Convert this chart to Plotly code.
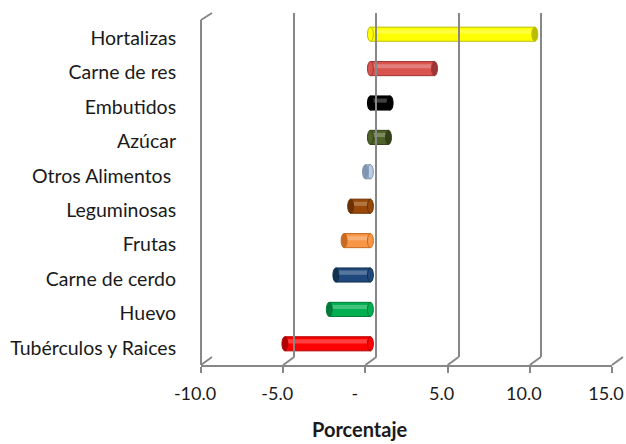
import plotly.graph_objects as go

# Variación porcentual por grupo de alimentos (de abajo hacia arriba)
categorias = ["Tubérculos y Raices", "Huevo", "Carne de cerdo", "Frutas",
              "Leguminosas", "Otros Alimentos ", "Azúcar", "Embutidos",
              "Carne de res", "Hortalizas"]
valores = [-5.2, -2.5, -2.1, -1.6, -1.2, -0.3, 1.1, 1.2, 3.9, 10.0]
colores = ["#FF0000", "#00B050", "#1F497D", "#F79646", "#984807",
           "#B9CDE5", "#4F6228", "#000000", "#D9534F", "#FFFF00"]
bordes = ["#B00000", "#007A38", "#12304F", "#C86A20", "#6A3204",
          "#8095B0", "#323F18", "#000000", "#9E3532", "#BDBD00"]

x_ticks = [-10, -5, 0, 5, 10, 15]
x_ticktext = ["-10.0", "-5.0", "-  ", "5.0", "10.0", "15.0"]
x_rango = [-10, 15]

W, H = 626, 444
FONT = "Lato"
GRIS = "#878787"


def fx(px):
    return px / W


def fy(py):
    return 1 - py / H


# Geometría del gráfico en pseudo-3D: pared frontal y pared del fondo
FRONT_X = (201, 612)
FRONT_Y = (21, 365)
DEPTH = (11, 8)          # desplazamiento horizontal / vertical del fondo
BACK_X = (FRONT_X[0] + DEPTH[0], FRONT_X[1] + DEPTH[0])
BACK_Y = (FRONT_Y[0] - DEPTH[1], FRONT_Y[1] - DEPTH[1])
MID_X = (FRONT_X[0] + 5, FRONT_X[1] + 5)
MID_Y = (FRONT_Y[0] - 4, FRONT_Y[1] - 4)


def px_of(v, span):
    return span[0] + (v - x_rango[0]) / (x_rango[1] - x_rango[0]) * (span[1] - span[0])


fig = go.Figure()
idx = list(range(len(categorias)))

# ejes auxiliares (pared del fondo y etiquetas de categoría)
fig.add_trace(go.Scatter(x=[None], y=[None], xaxis="x4", yaxis="y4",
                         showlegend=False, hoverinfo="skip"))
fig.add_trace(go.Scatter(x=[None], y=[None], xaxis="x", yaxis="y2",
                         showlegend=False, hoverinfo="skip"))

# cilindros
fig.add_trace(go.Bar(
    y=idx, x=valores, orientation="h", width=0.41,
    marker=dict(color=colores, line=dict(color=bordes, width=1)),
    xaxis="x3", yaxis="y3", showlegend=False, hoverinfo="skip"))
# brillo superior del cilindro
fig.add_trace(go.Bar(
    y=idx, x=valores, orientation="h", width=0.12, offset=0.01,
    marker=dict(color="rgba(255,255,255,0.25)", line=dict(width=0)),
    xaxis="x3", yaxis="y3", showlegend=False, hoverinfo="skip"))

shapes = []
# tapas elípticas de los cilindros
for i, (v, c, b) in enumerate(zip(valores, colores, bordes)):
    shapes.append(dict(type="circle", xref="x3", yref="y3",
                       x0=-0.18, x1=0.18, y0=i - 0.205, y1=i + 0.205,
                       fillcolor=c, line=dict(color=b, width=1), layer="above"))
    shapes.append(dict(type="circle", xref="x3", yref="y3",
                       x0=v - 0.18, x1=v + 0.18, y0=i - 0.205, y1=i + 0.205,
                       fillcolor=b, line=dict(color=b, width=1), layer="above"))

# aristas diagonales del piso y de la pared izquierda
for t in x_ticks:
    shapes.append(dict(type="line", xref="paper", yref="paper",
                       x0=fx(px_of(t, FRONT_X)), y0=fy(FRONT_Y[1]),
                       x1=fx(px_of(t, BACK_X)), y1=fy(BACK_Y[1]),
                       line=dict(color=GRIS, width=2), layer="below"))
shapes.append(dict(type="line", xref="paper", yref="paper",
                   x0=fx(FRONT_X[0]), y0=fy(FRONT_Y[0] - 1),
                   x1=fx(BACK_X[0]), y1=fy(BACK_Y[0]),
                   line=dict(color=GRIS, width=2), layer="below"))

fig.update_layout(
    template="none",
    width=W, height=H,
    margin=dict(l=0, r=0, t=0, b=0, pad=0),
    paper_bgcolor="white", plot_bgcolor="rgba(0,0,0,0)",
    barmode="overlay",
    shapes=shapes,
    font=dict(family=FONT, size=19, color="#1a1a1a"),
    # eje frontal de valores
    xaxis=dict(domain=[fx(FRONT_X[0]), fx(FRONT_X[1])], range=x_rango,
               anchor="y", tickvals=x_ticks, ticktext=x_ticktext,
               automargin=False,
               showgrid=False, zeroline=False, showline=True,
               linecolor=GRIS, linewidth=2, ticks="outside", ticklen=6,
               tickwidth=2, tickcolor=GRIS, ticklabelshift=-6,
               ticklabelstandoff=5,
               tickfont=dict(family=FONT, size=18, color="#1a1a1a")),
    # eje de categorías en el cero
    yaxis=dict(domain=[fy(FRONT_Y[1]), fy(FRONT_Y[0])], range=[-0.5, 9.5],
               anchor="free", position=fx(px_of(0, FRONT_X)),
               automargin=False,
               showgrid=False, zeroline=False, showline=True,
               linecolor=GRIS, linewidth=2, ticks="outside", ticklen=7,
               tickwidth=2, tickcolor=GRIS,
               tickvals=[k - 0.5 for k in range(11)], showticklabels=False),
    # etiquetas de categoría y arista frontal de la pared izquierda
    yaxis2=dict(domain=[fy(FRONT_Y[1]), fy(FRONT_Y[0] - 1)], range=[-0.5, 9.5 + 1 / 34.4],
                anchor="free", overlaying="y", position=fx(FRONT_X[0]),
                automargin=False,
                showgrid=False, zeroline=False, showline=True,
                linecolor=GRIS, linewidth=2, ticks="",
                tickvals=idx, ticktext=categorias, ticklabelstandoff=20,
                tickfont=dict(family=FONT, size=19.5, color="#1a1a1a")),
    # plano de las barras (a media profundidad)
    xaxis3=dict(domain=[fx(MID_X[0]), fx(MID_X[1])], range=x_rango,
                anchor="y3", visible=False, automargin=False),
    yaxis3=dict(domain=[fy(MID_Y[1]), fy(MID_Y[0])], range=[-0.5, 9.5],
                anchor="x3", visible=False, automargin=False),
    # pared del fondo con las líneas de cuadrícula
    xaxis4=dict(domain=[fx(BACK_X[0]), fx(BACK_X[1])], range=x_rango,
                anchor="y4", tickvals=x_ticks, showticklabels=False,
                automargin=False,
                showgrid=True, gridcolor=GRIS, gridwidth=2,
                zeroline=False, showline=False, ticks=""),
    yaxis4=dict(domain=[fy(BACK_Y[1]), fy(BACK_Y[0])], range=[0, 1],
                anchor="x4", visible=False, automargin=False),
    annotations=[dict(text="<b>Porcentaje</b>", x=fx(360), y=fy(429),
                      xref="paper", yref="paper", showarrow=False,
                      xanchor="center", yanchor="middle",
                      font=dict(family=FONT, size=20, color="#1a1a1a"))],
)

fig.write_html("out.html")
